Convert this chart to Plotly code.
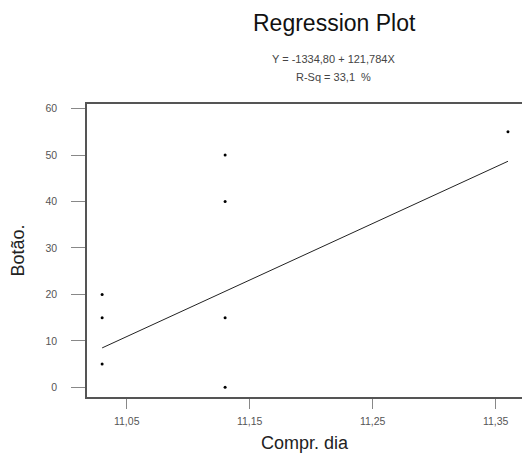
import plotly.graph_objects as go

# data
compr_dia = [11.03, 11.03, 11.03, 11.13, 11.13, 11.13, 11.13, 11.36]
botao = [5, 15, 20, 0, 15, 40, 50, 55]

# regression coefficients shown on the chart
intercept = -1334.80
slope = 121.784
r_sq = 33.1

x_ticks = [11.05, 11.15, 11.25, 11.35]
y_ticks = [0, 10, 20, 30, 40, 50, 60]

line_x = [min(compr_dia), max(compr_dia)]
line_y = [intercept + slope * v for v in line_x]

FONT = "Liberation Sans, Arial, sans-serif"

fig = go.Figure()
fig.add_trace(go.Scatter(
    x=line_x, y=line_y, mode="lines",
    line=dict(color="#222222", width=1), showlegend=False
))
fig.add_trace(go.Scatter(
    x=compr_dia, y=botao, mode="markers",
    marker=dict(color="black", size=3), showlegend=False
))

fig.update_layout(
    width=522, height=453,
    margin=dict(l=87, r=0, t=104, b=56),
    paper_bgcolor="white", plot_bgcolor="white",
    separators=",.",
    font=dict(family=FONT, color="#333333"),
    annotations=[
        dict(text="Regression Plot", x=334, y=23, showarrow=False,
             font=dict(size=23, color="#111111")),
        dict(text="Y = -1334,80 + 121,784X", x=333, y=59, showarrow=False,
             font=dict(size=11, color="#444444")),
        dict(text="R-Sq = 33,1  %", x=333, y=77, showarrow=False,
             font=dict(size=11, color="#444444")),
    ],
)

# place annotations in pixel coordinates
w, h = 522, 453
pw, ph = w - 87, h - 104 - 56
for a in fig.layout.annotations:
    px, py = a.x, a.y
    a.xref, a.yref = "paper", "paper"
    a.x = (px - 87) / pw
    a.y = (h - 56 - py) / ph
    a.xanchor, a.yanchor = "center", "middle"

fig.update_xaxes(
    range=[11.0177, 11.3714], tickvals=x_ticks, tickformat=".2f",
    showgrid=False, zeroline=False,
    showline=True, linecolor="#555555", linewidth=1.5, mirror=True,
    ticks="outside", ticklen=10, tickcolor="#888888", tickwidth=1,
    ticklabelstandoff=4,
    tickfont=dict(size=10.5, color="#555555"),
    title=dict(text="Compr. dia", font=dict(size=18, color="#222222"), standoff=10),
)
fig.update_yaxes(
    range=[-2.09, 61.0], tickvals=y_ticks,
    showgrid=False, zeroline=False,
    showline=True, linecolor="#555555", linewidth=1.5, mirror=False,
    ticks="outside", ticklen=14, tickcolor="#888888", tickwidth=1,
    ticklabelstandoff=12,
    tickfont=dict(size=10.5, color="#555555"),
    title=dict(text="Botão.", font=dict(size=18, color="#222222"), standoff=16),
)

fig.write_html(
    "out.html",
    config={"displayModeBar": False},
    post_script="document.body.style.margin='0';document.body.style.overflow='hidden';",
)
